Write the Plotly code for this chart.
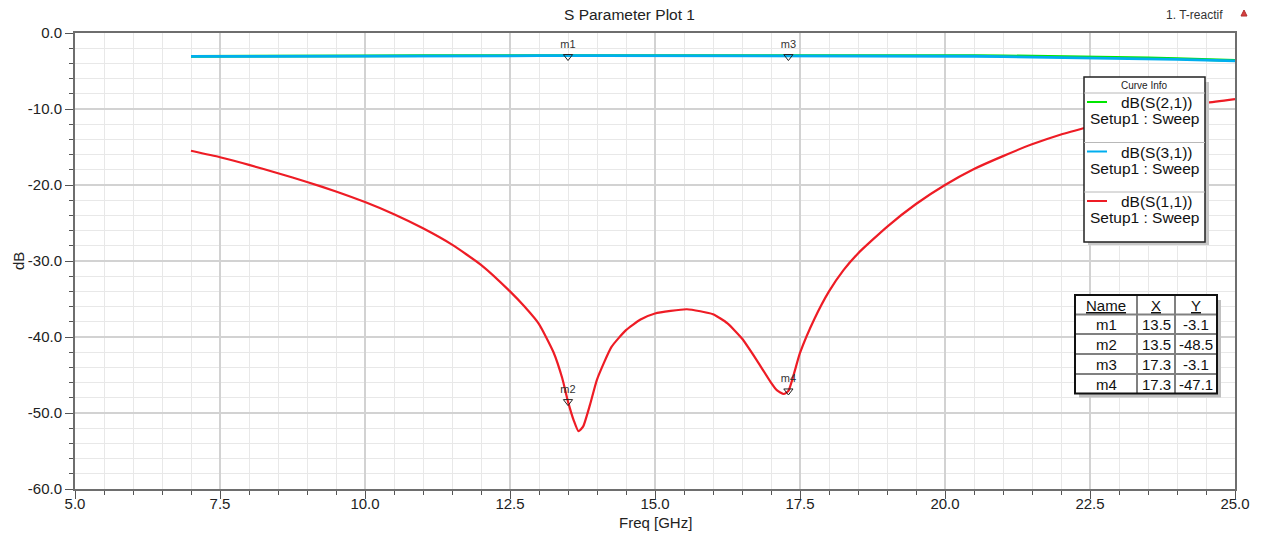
import plotly.graph_objects as go

# ---------------- data ----------------
freq_s11 = [7.0, 7.5, 8.0, 8.5, 9.0, 9.5, 10.0, 10.5, 11.0, 11.5, 12.0, 12.5, 12.75, 13.0,
            13.25, 13.4, 13.5, 13.6, 13.68, 13.76, 13.88, 14.0, 14.25, 14.5, 14.75, 15.0,
            15.55, 16.0, 16.25, 16.5, 16.75, 17.0, 17.1, 17.22, 17.3, 17.5, 17.75, 18.0,
            18.25, 18.5, 19.0, 19.5, 20.0, 20.5, 21.0, 21.5, 22.0, 22.5, 23.0, 23.5, 24.0,
            24.5, 25.0]
s11_db = [-15.5, -16.35, -17.35, -18.45, -19.6, -20.85, -22.25, -23.85, -25.7, -27.85,
          -30.5, -34.0, -36.0, -38.3, -42.0, -45.4, -48.5, -51.0, -52.4, -51.8, -48.9,
          -45.6, -41.3, -39.1, -37.7, -36.9, -36.35, -37.0, -38.2, -40.2, -43.0, -46.0,
          -47.0, -47.5, -47.1, -42.1, -37.6, -34.0, -31.2, -29.0, -25.5, -22.5, -20.0,
          -17.9, -16.2, -14.65, -13.35, -12.3, -11.3, -10.5, -9.8, -9.2, -8.7]

freq_thru = [7, 8, 9, 10, 11, 12, 13, 14, 15, 16, 17, 18, 19, 20, 20.5, 21, 21.5, 22,
             22.5, 23, 23.5, 24, 24.5, 25]
s31_db = [-3.08, -3.05, -3.03, -3.01, -3.0, -2.99, -2.99, -2.99, -2.99, -2.99, -3.0,
          -3.01, -3.02, -3.03, -3.06, -3.1, -3.15, -3.21, -3.28, -3.35, -3.41, -3.48,
          -3.57, -3.68]
s21_db = [-3.08, -3.08, -3.06, -3.0, -2.98, -2.97, -2.97, -2.97, -2.97, -2.97, -2.96,
          -2.95, -2.95, -2.95, -2.97, -3.0, -3.04, -3.1, -3.16, -3.22, -3.29, -3.37,
          -3.47, -3.62]

marker_names = ["m1", "m2", "m3", "m4"]
marker_freq = [13.5, 13.5, 17.3, 17.3]
marker_db = [-3.1, -48.5, -3.1, -47.1]

x_ticks = [5.0, 7.5, 10.0, 12.5, 15.0, 17.5, 20.0, 22.5, 25.0]
y_ticks = [0.0, -10.0, -20.0, -30.0, -40.0, -50.0, -60.0]

series_names = ["dB(S(2,1))", "dB(S(3,1))", "dB(S(1,1))"]
series_colors = ["#00e600", "#00aeef", "#ee1c25"]
sweep_label = "Setup1 : Sweep"

# ---------------- geometry helpers ----------------
W, H = 1263, 535
L, R, T, B = 75, 1235, 33, 489
FONT = "Arial, 'Liberation Sans', sans-serif"


def px(x):
    return (x - L) / (R - L)


def py(y):
    return (B - y) / (B - T)


fig = go.Figure()

fig.add_trace(go.Scatter(x=freq_thru, y=s21_db, mode="lines", name=series_names[0],
                         line=dict(color=series_colors[0], width=2.8)))
fig.add_trace(go.Scatter(x=freq_thru, y=s31_db, mode="lines", name=series_names[1],
                         line=dict(color=series_colors[1], width=2.8)))
fig.add_trace(go.Scatter(x=freq_s11, y=s11_db, mode="lines", name=series_names[2],
                         line=dict(color=series_colors[2], width=2.2, shape="spline",
                                   smoothing=0.5)))
fig.add_trace(go.Scatter(x=marker_freq, y=marker_db, mode="markers+text",
                         text=marker_names, textposition="top center",
                         textfont=dict(family=FONT, size=11, color="#333333"),
                         marker=dict(symbol="triangle-down-open", size=8,
                                     color="#222222", line=dict(width=1, color="#222222"))))

shapes = []
annotations = []

# Title and top-right label
annotations.append(dict(text="S Parameter Plot 1", x=px(629.5), y=py(15), xref="paper",
                        yref="paper", showarrow=False, xanchor="center", yanchor="middle",
                        font=dict(family=FONT, size=15.5, color="#222222")))
annotations.append(dict(text="1. T-reactif", x=px(1225), y=py(15), xref="paper",
                        yref="paper", showarrow=False, xanchor="right", yanchor="middle",
                        font=dict(family=FONT, size=12, color="#333333")))
shapes.append(dict(type="path", xref="paper", yref="paper",
                   path=f"M {px(1241)} {py(16)} L {px(1244)} {py(10)} L {px(1247)} {py(16)} Z",
                   fillcolor="#d84040", line=dict(color="#b03030", width=1)))

# Axis titles
annotations.append(dict(text="dB", x=px(18), y=py(261), xref="paper", yref="paper",
                        showarrow=False, textangle=-90, xanchor="center", yanchor="middle",
                        font=dict(family=FONT, size=15, color="#222222")))
annotations.append(dict(text="Freq [GHz]", x=px(655), y=py(522.5), xref="paper", yref="paper",
                        showarrow=False, xanchor="center", yanchor="middle",
                        font=dict(family=FONT, size=15, color="#222222")))

# ---------------- Curve Info legend ----------------
lx0, lx1, ly0, ly1 = 1084, 1205, 77, 242
shapes.append(dict(type="rect", xref="paper", yref="paper", x0=px(lx0 + 4), x1=px(lx1 + 4),
                   y0=py(ly0 + 5), y1=py(ly1 + 3), fillcolor="#c8c8c8",
                   line=dict(width=0)))
shapes.append(dict(type="rect", xref="paper", yref="paper", x0=px(lx0), x1=px(lx1),
                   y0=py(ly0), y1=py(ly1), fillcolor="white",
                   line=dict(color="#222222", width=1.5)))
annotations.append(dict(text="Curve Info", x=px((lx0 + lx1) / 2), y=py(85), xref="paper",
                        yref="paper", showarrow=False, xanchor="center", yanchor="middle",
                        font=dict(family=FONT, size=10, color="#222222")))
for i, (nm, col) in enumerate(zip(series_names, series_colors)):
    base = 93 + i * 49.5
    shapes.append(dict(type="line", xref="paper", yref="paper", x0=px(lx0), x1=px(lx1),
                       y0=py(base), y1=py(base), line=dict(color="#b8b8b8", width=1)))
    shapes.append(dict(type="line", xref="paper", yref="paper", x0=px(1087), x1=px(1107),
                       y0=py(base + 9), y1=py(base + 9), line=dict(color=col, width=2)))
    annotations.append(dict(text=nm, x=px(1119), y=py(base + 9.5), xref="paper",
                            yref="paper", showarrow=False, xanchor="left", yanchor="middle",
                            font=dict(family=FONT, size=15.5, color="#111111")))
    annotations.append(dict(text=sweep_label, x=px(1087.5), y=py(base + 25.5), xref="paper",
                            yref="paper", showarrow=False, xanchor="left", yanchor="middle",
                            font=dict(family=FONT, size=15.5, color="#111111")))

# ---------------- marker table ----------------
tx0, tx1, ty0, ty1 = 1075, 1217, 295, 393.5
cols = [1075, 1137, 1175, 1217]
rows = [295, 314.5, 334, 354, 374, 393.5]
shapes.append(dict(type="rect", xref="paper", yref="paper", x0=px(tx0 + 4), x1=px(tx1 + 4),
                   y0=py(ty0 + 5), y1=py(ty1 + 4), fillcolor="#c0c0c0", line=dict(width=0)))
shapes.append(dict(type="rect", xref="paper", yref="paper", x0=px(tx0), x1=px(tx1),
                   y0=py(ty0), y1=py(ty1), fillcolor="white", line=dict(width=0)))
for cx in cols[1:-1]:
    shapes.append(dict(type="line", xref="paper", yref="paper", x0=px(cx), x1=px(cx),
                       y0=py(ty0), y1=py(ty1), line=dict(color="#808080", width=2)))
for ry in rows[1:-1]:
    shapes.append(dict(type="line", xref="paper", yref="paper", x0=px(tx0), x1=px(tx1),
                       y0=py(ry), y1=py(ry), line=dict(color="#808080", width=2)))
shapes.append(dict(type="rect", xref="paper", yref="paper", x0=px(tx0), x1=px(tx1),
                   y0=py(ty0), y1=py(ty1), fillcolor="rgba(0,0,0,0)",
                   line=dict(color="#111111", width=2)))

headers = ["<u>Name</u>", "<u>X</u>", "<u>Y</u>"]
table_rows = [[n, f"{xv:.1f}", f"{yv:.1f}"] for n, xv, yv in zip(marker_names, marker_freq, marker_db)]
all_rows = [headers] + table_rows
for r, cells in enumerate(all_rows):
    cy = (rows[r] + rows[r + 1]) / 2 + 0.5
    for c, txt in enumerate(cells):
        cx = (cols[c] + cols[c + 1]) / 2
        annotations.append(dict(text=txt, x=px(cx), y=py(cy), xref="paper", yref="paper",
                                showarrow=False, xanchor="center", yanchor="middle",
                                font=dict(family=FONT, size=15, color="#111111")))

axis_common = dict(showline=True, linecolor="#6e6e6e", linewidth=2, mirror=True,
                   ticks="outside", ticklen=8, tickwidth=1, tickcolor="#555555",
                   showgrid=True, gridcolor="#d2d2d2", gridwidth=1.5, zeroline=False,
                   tickfont=dict(family=FONT, size=15, color="#222222"))

fig.update_layout(
    width=W, height=H, autosize=False,
    margin=dict(l=L, r=W - R, t=T, b=H - B, pad=0),
    paper_bgcolor="white", plot_bgcolor="white",
    showlegend=False,
    xaxis=dict(range=[5, 25], tickvals=x_ticks, ticktext=[f"{v:.1f}" for v in x_ticks],
               ticklabelstandoff=-8,
               minor=dict(dtick=0.5, tick0=5, ticks="outside", ticklen=4, tickcolor="#555555",
                          showgrid=True, gridcolor="#e8e8e8", gridwidth=1),
               **axis_common),
    yaxis=dict(range=[-60, 0], tickvals=y_ticks, ticktext=[f"{v:.1f}" for v in y_ticks],
               minor=dict(dtick=2, tick0=0, ticks="outside", ticklen=4, tickcolor="#555555",
                          showgrid=True, gridcolor="#e8e8e8", gridwidth=1),
               **axis_common),
    shapes=shapes,
    annotations=annotations,
)

fig.write_html("out.html")
